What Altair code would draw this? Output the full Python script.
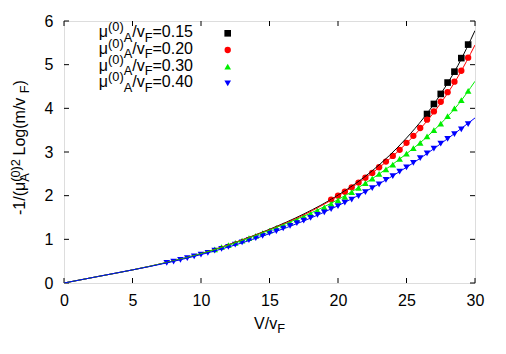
import altair as alt
import pandas as pd

# ---------------- data ----------------
black_V = [26.5, 27.0, 27.5, 28.0, 28.5, 29.0, 29.5]
black_Y = [3.87, 4.10, 4.33, 4.59, 4.84, 5.15, 5.46]

red_V = [19.5, 20.0, 20.5, 21.0, 21.5, 22.0, 22.5, 23.0, 23.5, 24.0, 24.5,
         25.0, 25.5, 26.0, 26.5, 27.0, 27.5, 28.0, 28.5, 29.0, 29.5]
red_Y = [1.91, 2.00, 2.09, 2.19, 2.30, 2.41, 2.52, 2.65, 2.78, 2.91, 3.05,
         3.21, 3.37, 3.55, 3.74, 3.93, 4.15, 4.37, 4.61, 4.86, 5.16]

green_V = [11.0, 11.5, 12.0, 12.5, 13.0, 13.5, 14.0, 14.5, 15.0, 15.5, 16.0,
           16.5, 17.0, 17.5, 18.0, 18.5, 19.0, 19.5, 20.0, 20.5, 21.0, 21.5,
           22.0, 22.5, 23.0, 23.5, 24.0, 24.5, 25.0, 25.5, 26.0, 26.5, 27.0,
           27.5, 28.0, 28.5, 29.0, 29.5]
green_Y = [0.77, 0.82, 0.87, 0.92, 0.97, 1.03, 1.08, 1.14, 1.20, 1.26, 1.32,
           1.38, 1.45, 1.52, 1.59, 1.66, 1.73, 1.81, 1.89, 1.97, 2.08, 2.18,
           2.29, 2.39, 2.50, 2.60, 2.71, 2.84, 2.96, 3.09, 3.21, 3.36, 3.50,
           3.65, 3.82, 4.00, 4.19, 4.40]

blue_V = [7.5, 8.0, 8.5, 9.0, 9.5, 10.0, 10.5, 11.0, 11.5, 12.0, 12.5, 13.0,
          13.5, 14.0, 14.5, 15.0, 15.5, 16.0, 16.5, 17.0, 17.5, 18.0, 18.5,
          19.0, 19.5, 20.0, 20.5, 21.0, 21.5, 22.0, 22.5, 23.0, 23.5, 24.0,
          24.5, 25.0, 25.5, 26.0, 26.5, 27.0, 27.5, 28.0, 28.5, 29.0, 29.5]
blue_Y = [0.46, 0.49, 0.53, 0.57, 0.61, 0.65, 0.69, 0.74, 0.78, 0.83, 0.88, 0.93,
          0.98, 1.03, 1.08, 1.14, 1.19, 1.25, 1.31, 1.37, 1.43, 1.49, 1.56,
          1.62, 1.69, 1.76, 1.84, 1.91, 1.99, 2.08, 2.17, 2.26, 2.36, 2.45,
          2.55, 2.65, 2.75, 2.86, 2.97, 3.08, 3.19, 3.30, 3.41, 3.52, 3.64]

fit_V = [0, 2.5, 5, 7.5, 10, 12.5, 15, 17.5, 20, 22.5, 25, 26.25, 27.5, 28.75, 30]
fit_black = [0, 0.15, 0.30, 0.47, 0.67, 0.93, 1.23, 1.58, 2.01, 2.57, 3.32, 3.78, 4.33, 4.98, 5.78]
fit_red = [0, 0.15, 0.30, 0.47, 0.67, 0.93, 1.22, 1.56, 1.99, 2.52, 3.20, 3.62, 4.12, 4.72, 5.45]
fit_green = [0, 0.15, 0.30, 0.47, 0.67, 0.92, 1.21, 1.53, 1.91, 2.39, 2.96, 3.28, 3.65, 4.08, 4.62]
fit_blue = [0, 0.15, 0.30, 0.46, 0.65, 0.87, 1.13, 1.42, 1.77, 2.18, 2.65, 2.91, 3.19, 3.48, 3.78]

legend_values = ["0.15", "0.20", "0.30", "0.40"]
x_ticks = [0, 5, 10, 15, 20, 25, 30]
y_ticks = [0, 1, 2, 3, 4, 5, 6]

# ---------------- layout ----------------
FONT = "Liberation Sans"
FS = 16
W, H = 411, 262
LEFT, TOP = 56, 13  # plot origin = 8 + padding

COLORS = ["#000000", "#ff0000", "#00ee00", "#0000ff"]
SHAPES = ["square", "circle", "triangle-up", "triangle-down"]
SIZES = [44, 40, 44, 44]

xs = alt.Scale(domain=[0, 30], nice=False, zero=False)
ys = alt.Scale(domain=[0, 6], nice=False, zero=False)
X_AX = alt.Axis(values=x_ticks, format="d", ticks=False, domain=False, grid=False,
                title=None, labelFont=FONT, labelFontSize=FS, labelColor="black",
                labelPadding=9, labelFlush=False)
Y_AX = alt.Axis(values=y_ticks, format="d", ticks=False, domain=False, grid=False,
                title=None, labelFont=FONT, labelFontSize=FS, labelColor="black",
                labelPadding=11, labelFlush=False)
one = pd.DataFrame({"k": [0]})

CW = {'-': 0.333, '1': 0.556, '/': 0.278, '(': 0.333, ')': 0.333, 'μ': 0.576,
      'A': 0.667, '0': 0.556, '2': 0.556, ' ': 0.278, 'L': 0.556, 'o': 0.556,
      'g': 0.556, 'm': 0.833, 'v': 0.5, 'F': 0.611, 'V': 0.667, '=': 0.584,
      '.': 0.278, '5': 0.556, '3': 0.556, '4': 0.556}


def tw(text, fs):
    return sum(CW.get(c, 0.556) for c in text) * fs


def piece_size(kind):
    return FS if kind == "n" else FS * 0.8


def total_width(pieces):
    t = 0
    for text, kind, move in pieces:
        if move:
            t += tw(text, piece_size(kind))
    return t


def rich(pieces, x0, y0, angle=0, sup=0.40, sub=0.28):
    out = []
    adv = 0.0
    for text, kind, move in pieces:
        fs = piece_size(kind)
        dy = 0 if kind == "n" else (-sup * FS if kind == "sup" else sub * FS)
        out.append(
            alt.Chart(one).mark_text(
                text=text, align="left", baseline="alphabetic", font=FONT,
                fontSize=fs, angle=angle, dx=adv, dy=dy, color="black"
            ).encode(x=alt.value(x0), y=alt.value(y0))
        )
        if move:
            adv += tw(text, fs)
    return out


def X(field):
    return alt.X(field, scale=xs, axis=X_AX)


def Y(field):
    return alt.Y(field, scale=ys, axis=Y_AX)


layers = []

# axes carrier
layers.append(alt.Chart(one).mark_point(opacity=0).encode(x=X("k:Q"), y=Y("k:Q")))

# inward ticks on all four sides
tx = pd.DataFrame({"t": x_ticks})
ty = pd.DataFrame({"t": y_ticks})
TL = 5
layers.append(alt.Chart(tx).mark_rule(color="black", strokeWidth=1).encode(
    x=X("t:Q"), y=alt.value(H), y2=alt.value(H - TL)))
layers.append(alt.Chart(tx).mark_rule(color="black", strokeWidth=1).encode(
    x=X("t:Q"), y=alt.value(0), y2=alt.value(TL)))
layers.append(alt.Chart(ty).mark_rule(color="black", strokeWidth=1).encode(
    y=Y("t:Q"), x=alt.value(0), x2=alt.value(TL)))
layers.append(alt.Chart(ty).mark_rule(color="black", strokeWidth=1).encode(
    y=Y("t:Q"), x=alt.value(W), x2=alt.value(W - TL)))

# data points
series = [(black_V, black_Y), (red_V, red_Y), (green_V, green_Y), (blue_V, blue_Y)]
for (V, Yv), c, s, sz in zip(series, COLORS, SHAPES, SIZES):
    df = pd.DataFrame({"V": V, "Y": Yv})
    layers.append(alt.Chart(df).mark_point(
        shape=s, filled=True, opacity=1, size=sz, color=c, strokeWidth=0
    ).encode(x=X("V:Q"), y=Y("Y:Q")))

# fitted curves
for fy, c in zip([fit_black, fit_red, fit_green, fit_blue], COLORS):
    df = pd.DataFrame({"V": fit_V, "Y": fy})
    layers.append(alt.Chart(df).mark_line(
        color=c, strokeWidth=1, interpolate="monotone", clip=True
    ).encode(x=X("V:Q"), y=Y("Y:Q")))

# legend (inside, top-left, gnuplot style)
LEG_RIGHT = 193 - 8 - LEFT
LEG_BASE = [37.3 - 8 - TOP, 54.0 - 8 - TOP, 70.7 - 8 - TOP, 87.4 - 8 - TOP]
MARK_X = 227.7 - 8 - LEFT
for val, base, c, s, sz in zip(legend_values, LEG_BASE, COLORS, SHAPES, SIZES):
    pieces = [("μ", "n", True), ("(0)", "sup", True), ("A", "sub", True),
              ("/v", "n", True), ("F", "sub", True), ("=" + val, "n", True)]
    start = LEG_RIGHT - total_width(pieces)
    layers += rich(pieces, start, base)
    layers.append(alt.Chart(one).mark_point(
        shape=s, filled=True, opacity=1, size=sz, color=c, strokeWidth=0
    ).encode(x=alt.value(MARK_X), y=alt.value(base - 4)))

# x title: V/v_F
xt = [("V/v", "n", True), ("F", "sub", True)]
layers += rich(xt, (269.5 - 8 - LEFT) - total_width(xt) / 2, 328.5 - 8 - TOP)

# y title: -1/(mu_A^(0))^2 Log(m/v_F), rotated
yt = [("-1/(μ", "n", True), ("A", "sub", False), ("(0)", "sup", True),
      (" 2", "sup", True), (" Log(m/v", "n", True), ("F", "sub", True), (")", "n", True)]
layers += rich(yt, 25 - 8 - LEFT, 215 - 8 - TOP, angle=270, sup=0.34, sub=0.26)

chart = alt.layer(*layers).properties(
    width=W, height=H,
    autosize=alt.AutoSizeParams(type="none"),
    padding={"left": LEFT, "top": TOP, "right": 490 - LEFT - W, "bottom": 338 - TOP - H},
).configure_view(stroke="black", strokeWidth=1).configure(background="white")

chart.save("out.html", embed_options={"renderer": "svg", "actions": False})
